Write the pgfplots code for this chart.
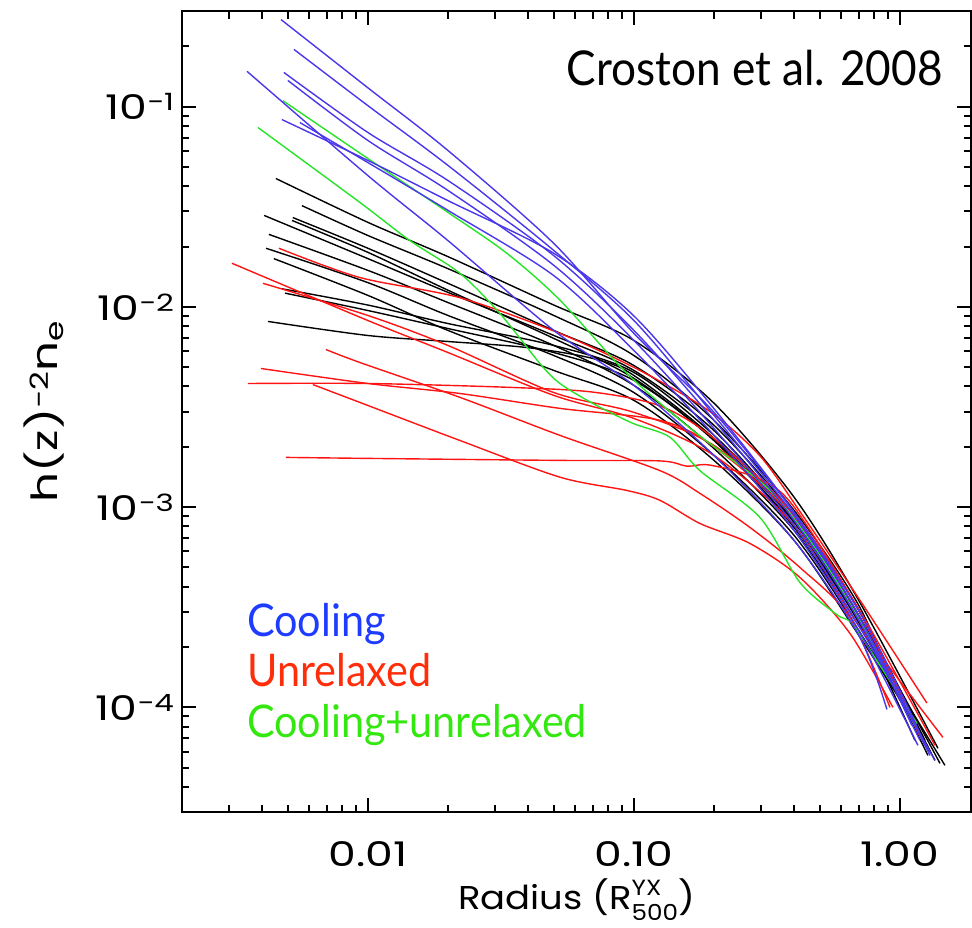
\documentclass[border=0pt]{standalone}
\usepackage{fontspec}
\setmainfont{Poppins}[FakeStretch=1.3]
\newfontfamily\annfont{Lato}[FakeStretch=0.92]
\newfontfamily\xlabfont{Poppins}[FakeStretch=1.12]
\usepackage{pgfplots}
\pgfplotsset{compat=1.18}
\definecolor{cblue}{RGB}{75,55,235}
\definecolor{cred}{RGB}{255,20,20}
\definecolor{cgreen}{RGB}{40,228,40}
\definecolor{lblue}{RGB}{30,60,255}
\definecolor{lred}{RGB}{255,45,10}
\definecolor{lgreen}{RGB}{50,232,15}
\pgfplotsset{tickline/.style={black, line width=2pt, sharp plot, no marks, forget plot}}
\begin{document}
\begin{tikzpicture}
\useasboundingbox (-182pt,-116pt) rectangle (790pt,812pt);
\begin{axis}[
  scale only axis, width=789pt, height=801pt,
  xmode=log, ymode=log,
  xmin=0.002, xmax=1.85, ymin=3e-5, ymax=0.3,
  clip=false,
  axis background/.style={draw=black, line width=2.6pt},
  major tick length=0pt, minor tick length=0pt,
  xtick={0.01,0.1,1}, xticklabels={0.01,0.10,1.00},
  ytick={1e-4,1e-3,1e-2,1e-1},
  yticklabels={10\textsuperscript{−4},10\textsuperscript{−3},10\textsuperscript{−2},10\textsuperscript{−1}},
  minor xtick={}, minor ytick={},
  ticklabel style={font=\fontsize{34}{38}\selectfont},
  xticklabel style={yshift=-26pt},
  yticklabel style={xshift=-4pt},
  xlabel={Radius (R\rlap{\raisebox{14pt}{\fontsize{22}{22}\selectfont YX}}\raisebox{-11pt}{\fontsize{22}{22}\selectfont 500})},
  ylabel={h(z)\textsuperscript{−2}n\textsubscript{e}},
  xlabel style={font=\xlabfont\fontsize{33}{38}\selectfont, at={(rel axis cs:0.5,-0.1211)}, anchor=base},
  ylabel style={font=\fontsize{36}{40}\selectfont, at={(rel axis cs:-0.1572,0.5)}, anchor=base},
  every axis plot/.append style={line width=1.4pt, smooth, tension=0.5},
]
% ---- frame and inward ticks on all four sides (14pt major, 7.5pt minor) ----
\addplot[black, line width=2.6pt, sharp plot, no marks, forget plot, line cap=rect, line join=miter] coordinates {(0.002,3e-5) (1.85,3e-5) (1.85,0.3) (0.002,0.3) (0.002,3e-5)};
\pgfplotsinvokeforeach{0.01,0.1,1}{
  \addplot[tickline] coordinates {(#1,3e-5) (#1,3.525e-5)};
  \addplot[tickline] coordinates {(#1,0.3) (#1,0.2553)};
}
\pgfplotsinvokeforeach{0.003,0.004,0.005,0.006,0.007,0.008,0.009,0.02,0.03,0.04,0.05,0.06,0.07,0.08,0.09,0.2,0.3,0.4,0.5,0.6,0.7,0.8,0.9}{
  \addplot[tickline] coordinates {(#1,3e-5) (#1,3.27e-5)};
  \addplot[tickline] coordinates {(#1,0.3) (#1,0.2752)};
}
\pgfplotsinvokeforeach{1e-4,1e-3,1e-2,1e-1}{
  \addplot[tickline] coordinates {(0.002,#1) (0.002258,#1)};
  \addplot[tickline] coordinates {(1.85,#1) (1.639,#1)};
}
\pgfplotsinvokeforeach{4e-5,5e-5,6e-5,7e-5,8e-5,9e-5,2e-4,3e-4,4e-4,5e-4,6e-4,7e-4,8e-4,9e-4,2e-3,3e-3,4e-3,5e-3,6e-3,7e-3,8e-3,9e-3,2e-2,3e-2,4e-2,5e-2,6e-2,7e-2,8e-2,9e-2,2e-1}{
  \addplot[tickline] coordinates {(0.002,#1) (0.002134,#1)};
  \addplot[tickline] coordinates {(1.85,#1) (1.734,#1)};
}
% ---- black (relaxed) ----
\addplot[black] coordinates {(0.00451,0.0437) (0.01,0.0264) (0.02,0.0178) (0.05,0.0102) (0.1,0.00679) (0.2,0.00330) (0.4,0.00112) (0.7,0.000342) (1.390,6.24e-5)};
\addplot[black] coordinates {(0.00565,0.0320) (0.01,0.0227) (0.02,0.0155) (0.05,0.00905) (0.1,0.00571) (0.2,0.00271) (0.4,0.000962) (0.7,0.000323) (1.0,0.000108)};
\addplot[black] coordinates {(0.00407,0.0286) (0.01,0.0174) (0.02,0.0118) (0.05,0.00719) (0.1,0.00481) (0.2,0.00241) (0.4,0.000857) (0.7,0.000288) (1.414,5.25e-5)};
\addplot[black] coordinates {(0.00522,0.0279) (0.01,0.0196) (0.02,0.0131) (0.05,0.00762) (0.1,0.00509) (0.2,0.00256) (0.4,0.000908) (0.7,0.000305) (1.242,6.84e-5)};
\addplot[black] coordinates {(0.00518,0.0270) (0.01,0.0187) (0.02,0.0121) (0.05,0.00695) (0.1,0.00439) (0.2,0.00215) (0.4,0.000809) (0.7,0.000272) (1.297,5.96e-5)};
\addplot[black] coordinates {(0.00424,0.0230) (0.01,0.0152) (0.02,0.0105) (0.05,0.00641) (0.1,0.00405) (0.2,0.00196) (0.4,0.000764) (0.7,0.000256) (1.476,5.13e-5)};
\addplot[black] coordinates {(0.00414,0.0196) (0.01,0.0132) (0.02,0.00905) (0.05,0.00571) (0.1,0.00373) (0.2,0.00181) (0.4,0.000722) (0.7,0.000242) (1.189,7.50e-5)};
\addplot[black] coordinates {(0.00443,0.0174) (0.01,0.0114) (0.02,0.00762) (0.05,0.00481) (0.1,0.00341) (0.2,0.00171) (0.4,0.000681) (0.7,0.000229) (1.090,9.11e-5)};
\addplot[black] coordinates {(0.00475,0.0123) (0.01,0.0102) (0.02,0.00825) (0.05,0.00641) (0.1,0.00470) (0.2,0.00228) (0.4,0.000857) (0.7,0.000288) (1.354,5.43e-5)};
\addplot[black] coordinates {(0.00488,0.0117) (0.01,0.00958) (0.02,0.00779) (0.05,0.00591) (0.1,0.00429) (0.2,0.00215) (0.4,0.000791) (0.7,0.000265) (1.139,6.84e-5)};
\addplot[black] coordinates {(0.00421,0.00845) (0.01,0.00719) (0.02,0.00671) (0.0396,0.00626) (0.0701,0.00552) (0.1,0.00454) (0.2,0.00220) (0.4,0.000838) (0.7,0.000278) (1.274,5.75e-5)};
% ---- red (unrelaxed) ----
\addplot[cred] coordinates {(0.00308,0.0165) (0.01,0.00854) (0.02,0.00591) (0.05,0.00361) (0.1,0.00277) (0.2,0.00181) (0.4,0.000809) (0.7,0.000256) (1.451,7.08e-5)};
\addplot[cred] coordinates {(0.00463,0.0196) (0.00933,0.0140) (0.02218,0.0111) (0.05271,0.00736) (0.1053,0.00481) (0.1931,0.00300) (0.2977,0.00180) (0.4208,0.00095) (0.7,0.000350) (1.263,0.000105)};
\addplot[cred] coordinates {(0.00403,0.0131) (0.01,0.00905) (0.02,0.00641) (0.05,0.00373) (0.1,0.00297) (0.2,0.00203) (0.4,0.000908) (0.7,0.000305) (1.139,8.12e-5)};
\addplot[cred] coordinates {(0.00695,0.00612) (0.00933,0.00527) (0.02218,0.00353) (0.05271,0.00228) (0.1253,0.00152) (0.1771,0.00117) (0.2730,0.000791) (0.4208,0.000499) (0.6486,0.000281) (0.9171,9.99e-5)};
\addplot[cred] coordinates {(0.00354,0.00414) (0.01,0.00414) (0.03418,0.00396) (0.07013,0.00375) (0.1253,0.00320) (0.2,0.00220) (0.4,0.000920) (0.7,0.000310) (1.354,6.46e-5)};
\addplot[cred] coordinates {(0.00396,0.00492) (0.01,0.00414) (0.02218,0.00369) (0.05271,0.00311) (0.1253,0.00271) (0.2,0.00200) (0.4,0.000880) (0.7,0.000278) (1.242,6.46e-5)};
\addplot[cred] coordinates {(0.00621,0.00409) (0.00933,0.00333) (0.02218,0.00215) (0.05271,0.00141) (0.09412,0.00121) (0.1253,0.00108) (0.1771,0.000828) (0.2730,0.000658) (0.4208,0.000445) (0.6486,0.000234) (0.9412,9.99e-5)};
\addplot[cred] coordinates {(0.00492,0.00177) (0.01,0.00175) (0.05271,0.00171) (0.1253,0.00170) (0.1582,0.00160) (0.1931,0.00162) (0.2977,0.00138) (0.4,0.00100) (0.7,0.000305) (1.189,7.24e-5)};
% ---- green (cooling + unrelaxed) ----
\addplot[cgreen] coordinates {(0.00479,0.107) (0.01,0.0550) (0.02,0.0296) (0.0333,0.0185) (0.0527,0.0108) (0.0941,0.00465) (0.1667,0.00241) (0.3162,0.00125) (0.4875,0.000607) (0.7514,0.000234) (1.139,8.12e-5)};
\addplot[cgreen] coordinates {(0.00386,0.0786) (0.00933,0.0332) (0.01439,0.0214) (0.02218,0.0147) (0.03135,0.00926) (0.04432,0.00521) (0.05271,0.00414) (0.07013,0.00329) (0.099,0.00262) (0.1366,0.00223) (0.1771,0.00152) (0.2977,0.000887) (0.4208,0.000420) (0.5797,0.000290) (0.6600,0.000262) (0.8409,0.000162) (1.158,8.31e-5)};
% ---- blue (cooling) ----
\addplot[cblue] coordinates {(0.00471,0.272) (0.01,0.124) (0.02,0.0603) (0.05,0.0207) (0.1,0.00736) (0.2,0.00297) (0.4,0.000940) (0.7,0.000305) (1.044,0.000108) (1.242,6.46e-5)};
\addplot[cblue] coordinates {(0.00527,0.193) (0.01,0.101) (0.02,0.0508) (0.05,0.0191) (0.1,0.00854) (0.2,0.00287) (0.4,0.000908) (0.7,0.000288) (1.297,5.75e-5)};
\addplot[cblue] coordinates {(0.00351,0.150) (0.01,0.0452) (0.02,0.0214) (0.05,0.00762) (0.1,0.00405) (0.2,0.00181) (0.4,0.000681) (0.7,0.000229) (0.8935,9.76e-5)};
\addplot[cblue] coordinates {(0.00483,0.148) (0.01,0.0742) (0.02,0.0427) (0.05,0.0180) (0.1,0.00762) (0.2,0.00271) (0.4,0.000857) (0.7,0.000272) (1.189,6.84e-5)};
\addplot[cblue] coordinates {(0.00500,0.135) (0.01,0.0677) (0.02,0.0381) (0.05,0.0161) (0.1,0.00679) (0.2,0.00247) (0.4,0.000809) (0.7,0.000256) (1.354,5.43e-5)};
\addplot[cblue] coordinates {(0.00475,0.0861) (0.01,0.0538) (0.02,0.0339) (0.05,0.0185) (0.1,0.00900) (0.2,0.00310) (0.4,0.000940) (0.7,0.000288) (1.109,8.12e-5)};
\addplot[cblue] coordinates {(0.00555,0.0832) (0.01,0.0525) (0.02,0.0303) (0.05,0.0143) (0.1,0.00605) (0.2,0.00228) (0.4,0.000764) (0.7,0.000242) (1.168,6.46e-5)};
% ---- annotations ----
\node[anchor=base east, inner sep=0pt, font=\annfont\fontsize{48}{52}\selectfont] at (rel axis cs:0.9645,0.9076) {Croston et al. 2008};
\node[anchor=base west, inner sep=0pt, text=lblue, font=\annfont\fontsize{45}{50}\selectfont] at (rel axis cs:0.0824,0.2197) {Cooling};
\node[anchor=base west, inner sep=0pt, text=lred, font=\annfont\fontsize{45}{50}\selectfont] at (rel axis cs:0.0824,0.1561) {Unrelaxed};
\node[anchor=base west, inner sep=0pt, text=lgreen, font=\annfont\fontsize{45}{50}\selectfont] at (rel axis cs:0.0824,0.0924) {Cooling+unrelaxed};
\end{axis}
\end{tikzpicture}
\end{document}
